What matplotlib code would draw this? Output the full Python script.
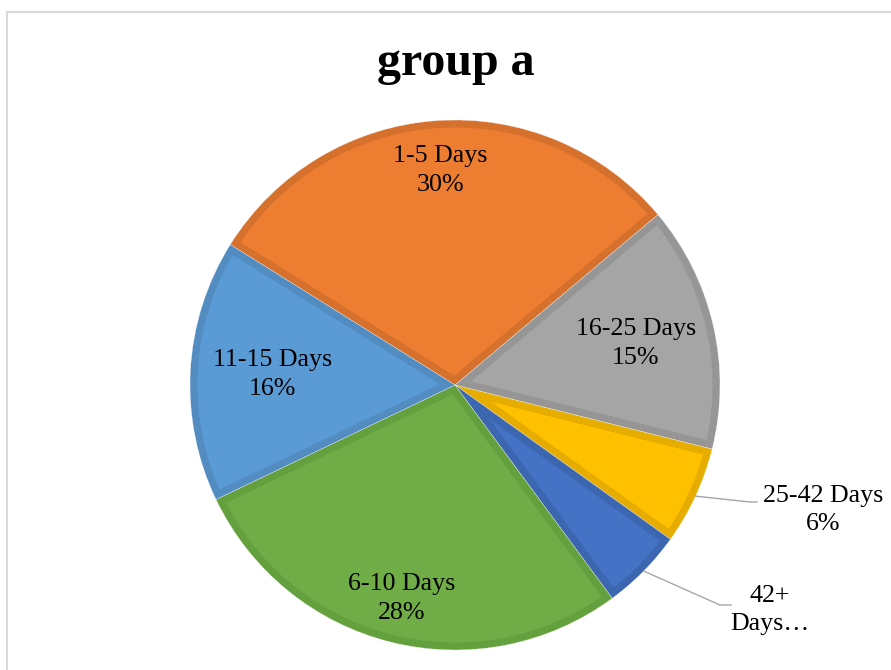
import matplotlib.pyplot as plt
from matplotlib.patches import Polygon
import numpy as np

labels = ["1-5 Days", "16-25 Days", "25-42 Days", "42+\nDays\u2026", "6-10 Days", "11-15 Days"]
percents = [30, 15, 6, 5, 28, 16]
colors = ["#ED7D31", "#A5A5A5", "#FFC000", "#4472C4", "#70AD47", "#5B9BD5"]
edge_colors = ["#D6702D", "#969696", "#E6AD00", "#3D66B0", "#65A03F", "#528CC1"]

plt.rcParams['font.family'] = ['Liberation Serif', 'DejaVu Serif']

fig = plt.figure(figsize=(8.91, 6.70), dpi=100)
ax = fig.add_axes([0, 0, 1, 1])

cx, cy, R = 455, 670 - 385, 265
start = 148  # degrees, counter clockwise from x axis
d = 7.5      # inset border width in px

wedges, _ = ax.pie(percents, colors=colors, startangle=start, counterclock=False,
                   radius=R, center=(cx, cy),
                   wedgeprops=dict(linewidth=0.2, edgecolor='white'))

# wedge itself becomes the darker border, an inset copy carries the fill
for w, c, ec in zip(wedges, colors, edge_colors):
    w.set_facecolor(ec)
    t1, t2 = np.deg2rad(w.theta1), np.deg2rad(w.theta2)
    half = (t2 - t1) / 2
    a = np.arcsin(d / (R - d))
    apex = d / np.sin(half)
    ts = np.linspace(t1 + a, t2 - a, 100)
    pts = [(cx + apex * np.cos(t1 + half), cy + apex * np.sin(t1 + half))]
    pts += list(zip(cx + (R - d) * np.cos(ts), cy + (R - d) * np.sin(ts)))
    ax.add_patch(Polygon(pts, closed=True, facecolor=c, linewidth=0))

ax.set_xlim(0, 891)
ax.set_ylim(0, 670)
ax.set_aspect('equal')
ax.axis('off')

inside = {0: 0.81, 1: 0.70, 4: 0.83, 5: 0.69}
outside = {2: ((823, 670 - 510), (750, 670 - 502), (757, 670 - 502)),
           3: ((770, 670 - 610), (720, 670 - 605), (731, 670 - 605))}

for i, w in enumerate(wedges):
    mid = np.deg2rad((w.theta1 + w.theta2) / 2)
    text = "%s\n%d%%" % (labels[i], percents[i])
    if i in inside:
        f = inside[i]
        ax.text(cx + f * R * np.cos(mid), cy + f * R * np.sin(mid), text,
                ha='center', va='center', fontsize=18.7, linespacing=1.4,
                multialignment='center')
    else:
        (tx, ty), (kx, ky), (ex, ey) = outside[i]
        sx, sy = cx + R * np.cos(mid), cy + R * np.sin(mid)
        ax.plot([sx, kx, ex], [sy, ky, ey], color="#A6A6A6", lw=1)
        if i == 3:
            text = labels[i]
        ax.text(tx, ty, text, ha='center', va='center', fontsize=18.7,
                linespacing=1.4, multialignment='center')

ax.text(456, 670 - 75, "group a", ha='center', va='baseline',
        fontsize=34.5, fontweight='bold')

# chart area border
ax.plot([7, 7, 900], [-10, 670 - 12, 670 - 12], color="#D9D9D9", lw=1.5,
        clip_on=False)

plt.savefig("out.png", dpi=100)
